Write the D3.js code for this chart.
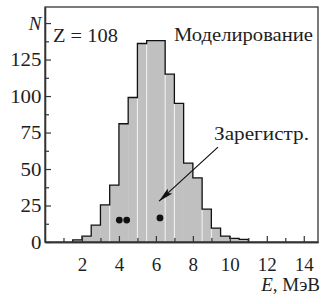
<!DOCTYPE html>
<html><head><meta charset="utf-8">
<script src="https://cdn.jsdelivr.net/npm/d3@7"></script>
<style>
html,body{margin:0;padding:0;background:#fff;}
</style></head>
<body><svg id="c" width="322" height="304" font-family="Liberation Serif"></svg>
<script>
// Data
const binStart = 1.5, binWidth = 0.5;
const counts = [1.5, 4, 11.5, 25.5, 39, 81, 99, 136, 138, 138, 115, 95, 54, 44, 22.5, 9.5, 4, 2.5, 1.8];
const separators = [3.5, 5.0, 5.5, 6.5, 7.0, 8.5, 9.0];
const registeredE = [4.02, 4.42, 6.22];
const registeredN = [15, 15, 16.5];
const xTicks = [2, 4, 6, 8, 10, 12, 14];
const xMinor = [1, 3, 5, 7, 9, 11, 13];
const yTicks = [0, 25, 50, 75, 100, 125, 150];
const yMinor = [12.5, 37.5, 62.5, 87.5, 112.5, 137.5];
const labelZ = "Z = 108", labelModel = "Моделирование", labelReg = "Зарегистр.";
const arrowFrom = [9.36, 65], arrowTo = [6.17, 28];

const FONT = "Liberation Serif";
const TXT = "#1e1e1e";
const svg = d3.select("#c");
const x = d3.scaleLinear().domain([0, 14.77]).range([45, 318]);
const y = d3.scaleLinear().domain([0, 161]).range([242, 7]);
const fs = 19;

const bins = counts.map((c, i) => ({x0: binStart + i*binWidth, x1: binStart + (i+1)*binWidth, n: c}));

// bars
svg.append("g").selectAll("rect").data(bins).join("rect")
  .attr("x", d => x(d.x0)).attr("width", d => x(d.x1) - x(d.x0) + 0.3)
  .attr("y", d => y(d.n)).attr("height", d => y(0) - y(d.n))
  .attr("fill", "#c0c0c0");

// white separators
svg.append("g").selectAll("line").data(separators).join("line")
  .attr("x1", d => x(d)).attr("x2", d => x(d))
  .attr("y1", y(0))
  .attr("y2", d => {
    const i = Math.round((d - binStart)/binWidth);
    return y(Math.min(counts[i-1], counts[i])) + 1;
  })
  .attr("stroke", "#f4f4f4").attr("stroke-width", 1);

// outline
const pts = [[binStart, 0]].concat(bins.map(b => [b.x0, b.n])).concat([[bins[bins.length-1].x1, 0]]);
svg.append("path")
  .attr("d", d3.line().x(d => x(d[0])).y(d => y(d[1])).curve(d3.curveStepAfter)(pts))
  .attr("fill", "none").attr("stroke", "#111").attr("stroke-width", 1.3);

// frame
svg.append("rect").attr("x", x(0)).attr("y", y(161)).attr("width", x(14.77) - x(0)).attr("height", y(0) - y(161))
  .attr("fill", "none").attr("stroke", "#333").attr("stroke-width", 1.3);

// axes
const gx = svg.append("g").attr("transform", `translate(0,${y(0)})`)
  .call(d3.axisBottom(x).tickValues(xTicks).tickSize(-6).tickSizeOuter(0).tickPadding(15.5));
const gxm = svg.append("g").attr("transform", `translate(0,${y(0)})`)
  .call(d3.axisBottom(x).tickValues(xMinor).tickSize(-4).tickSizeOuter(0).tickFormat(""));
const gy = svg.append("g").attr("transform", `translate(${x(0)},0)`)
  .call(d3.axisLeft(y).tickValues(yTicks).tickSize(-6).tickSizeOuter(0).tickPadding(3.5)
    .tickFormat(d => d === 150 ? "N" : d));
const gym = svg.append("g").attr("transform", `translate(${x(0)},0)`)
  .call(d3.axisLeft(y).tickValues(yMinor).tickSize(-4).tickSizeOuter(0).tickFormat(""));
[gx, gxm, gy, gym].forEach(g => {
  g.attr("font-family", FONT).attr("font-size", fs);
  g.select(".domain").attr("stroke", "#333").attr("stroke-width", 1.3);
  g.selectAll(".tick line").attr("stroke", "#333").attr("stroke-width", 1.2);
  g.selectAll(".tick text").attr("font-size", fs).attr("font-family", FONT).attr("fill", TXT);
});
gy.selectAll(".tick text").filter(d => d === 150).attr("font-style", "italic");
gy.selectAll(".tick text").filter(d => d !== 150).each(function() {
  const w = this.getComputedTextLength();
  d3.select(this).attr("textLength", w * 1.1).attr("lengthAdjust", "spacingAndGlyphs");
});

function label(px, py, str, len) {
  const t = svg.append("text").attr("x", px).attr("y", py).attr("font-size", fs)
    .attr("font-family", FONT).attr("fill", TXT).text(str);
  if (len) t.attr("textLength", len).attr("lengthAdjust", "spacingAndGlyphs");
  return t;
}

// axis title
const xt = svg.append("text").attr("x", 320).attr("y", 291).attr("text-anchor", "end")
  .attr("font-size", fs).attr("font-family", FONT).attr("fill", TXT);
xt.append("tspan").attr("font-style", "italic").text("E");
xt.append("tspan").text(", МэВ");

// labels
label(53, 42, labelZ, 65);
label(174, 41, labelModel, 139);
label(214, 140, labelReg, 95);

// dots
svg.append("g").selectAll("circle").data(registeredE).join("circle")
  .attr("cx", d => x(d)).attr("cy", (d, i) => y(registeredN[i])).attr("r", 3.4).attr("fill", "#111");

// arrow
svg.append("defs").append("marker").attr("id", "ah").attr("viewBox", "0 0 15 7")
  .attr("refX", 15).attr("refY", 3.5).attr("markerWidth", 15).attr("markerHeight", 7)
  .attr("markerUnits", "userSpaceOnUse").attr("orient", "auto")
  .append("path").attr("d", "M0,0 L15,3.5 L0,7 L3,3.5 Z").attr("fill", "#111");
svg.append("line")
  .attr("x1", x(arrowFrom[0])).attr("y1", y(arrowFrom[1]))
  .attr("x2", x(arrowTo[0])).attr("y2", y(arrowTo[1]))
  .attr("stroke", "#111").attr("stroke-width", 1.2).attr("marker-end", "url(#ah)");
</script></body></html>
